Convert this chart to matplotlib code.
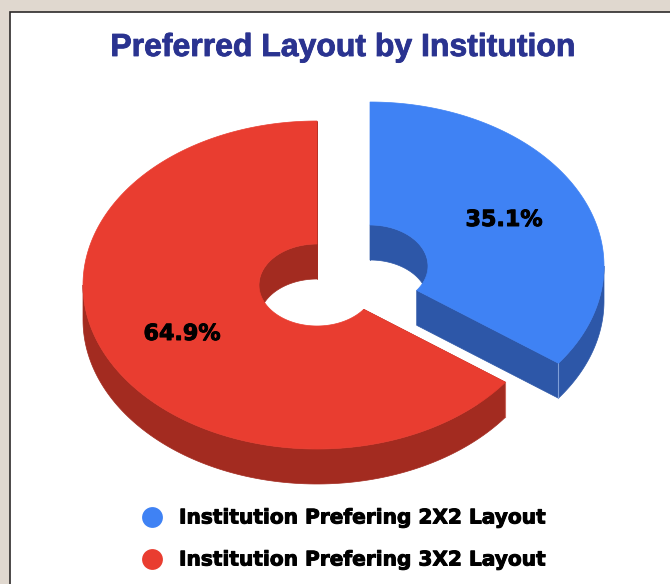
import numpy as np
import matplotlib
matplotlib.use('Agg')
import matplotlib.pyplot as plt
import matplotlib.patheffects as pe
from matplotlib.patches import Polygon, Rectangle

title = 'Preferred Layout by Institution'
labels = ['Institution Prefering 2X2 Layout', 'Institution Prefering 3X2 Layout']
shares = [35.1, 64.9]
top_colors = ['#3f82f4', '#e93d30']
side_colors = ['#2d57a8', '#a32b20']
edge_colors = ['#7f9fd8', '#c9675c']

# pie geometry in pixels
centers = [(370, 266), (317, 285)]
RX, RY = 234, 164
HX, HY = 58, 41
DEPTH = 35


def ell(cx, cy, rx, ry, a):
	# a is degrees clockwise from 12 o'clock
	t = np.radians(a)
	return np.column_stack([cx + rx * np.sin(t), cy - ry * np.cos(t)])


def shade(ax, pts, color, z):
	ax.add_patch(Polygon(pts, closed=True, fc=color, ec=color, lw=0.5, zorder=z))


def wall(ax, cx, cy, rx, ry, a0, a1, color, z):
	if a1 <= a0:
		return
	a = np.linspace(a0, a1, 120)
	e = ell(cx, cy, rx, ry, a)
	low = e + [0, DEPTH]
	shade(ax, np.vstack([e, low[::-1]]), color, z)


def slice3d(ax, cx, cy, a0, a1, top, side, edge, z):
	a = np.linspace(a0, a1, 240)
	outer = ell(cx, cy, RX, RY, a)
	inner = ell(cx, cy, HX, HY, a)
	# hole wall seen through the opening, upper part of the ellipse only
	wall(ax, cx, cy, HX, HY, max(a0, 270), min(a1, 360), side, z)
	wall(ax, cx, cy, HX, HY, max(a0, 0), min(a1, 90), side, z)
	# cut faces
	for ang in (a0, a1):
		p = np.vstack([ell(cx, cy, HX, HY, [ang]), ell(cx, cy, RX, RY, [ang])])
		shade(ax, np.vstack([p, p[::-1] + [0, DEPTH]]), side, z)
	# outer rim, lower half
	wall(ax, cx, cy, RX, RY, max(a0, 90), min(a1, 270), side, z + 0.1)
	# light line down the outer corner
	c = ell(cx, cy, RX, RY, [a0 if a0 > 0 else a1])
	ax.plot([c[0, 0], c[0, 0]], [c[0, 1], c[0, 1] + DEPTH], color=edge, lw=0.8, zorder=z + 0.15)
	shade(ax, np.vstack([outer, inner[::-1]]), top, z + 0.2)


fig = plt.figure(figsize=(6.7, 5.84), dpi=100, facecolor='#e0d8cf')
ax = fig.add_axes([0, 0, 1, 1])
ax.set_xlim(0, 670)
ax.set_ylim(584, 0)
ax.axis('off')

ax.add_patch(Rectangle((9.5, 11.5), 700, 600, fc='white', ec='#2e2a2a', lw=1.2, zorder=0))

ax.text(343, 48, title, color='#2a3390', fontsize=23, fontweight='bold',
	family='Liberation Sans', ha='center', va='center',
	path_effects=[pe.withStroke(linewidth=0.6, foreground='#2a3390')])

ends = np.cumsum(shares) * 3.6
for i in [1, 0]:
	a0 = 0 if i == 0 else ends[0]
	slice3d(ax, centers[i][0], centers[i][1], a0, ends[i], top_colors[i], side_colors[i], edge_colors[i], 2 + (1 - i))

bold = [pe.withStroke(linewidth=0.7, foreground='black')]

# percent labels
ax.text(504, 220, '%.1f%%' % shares[0], fontsize=16, fontweight='bold', ha='center', va='center',
	zorder=6, path_effects=bold)
ax.text(182, 334, '%.1f%%' % shares[1], fontsize=16, fontweight='bold', ha='center', va='center',
	zorder=6, path_effects=bold)

# legend
for y, lab, c in zip([517, 559], labels, top_colors):
	ax.scatter([152], [y], s=225, color=c, linewidths=0, zorder=6)
	ax.text(179, y + 1, lab, fontsize=14.5, fontweight='bold', ha='left', va='center', zorder=6, path_effects=bold)

fig.savefig('out.png', dpi=100, facecolor=fig.get_facecolor())
